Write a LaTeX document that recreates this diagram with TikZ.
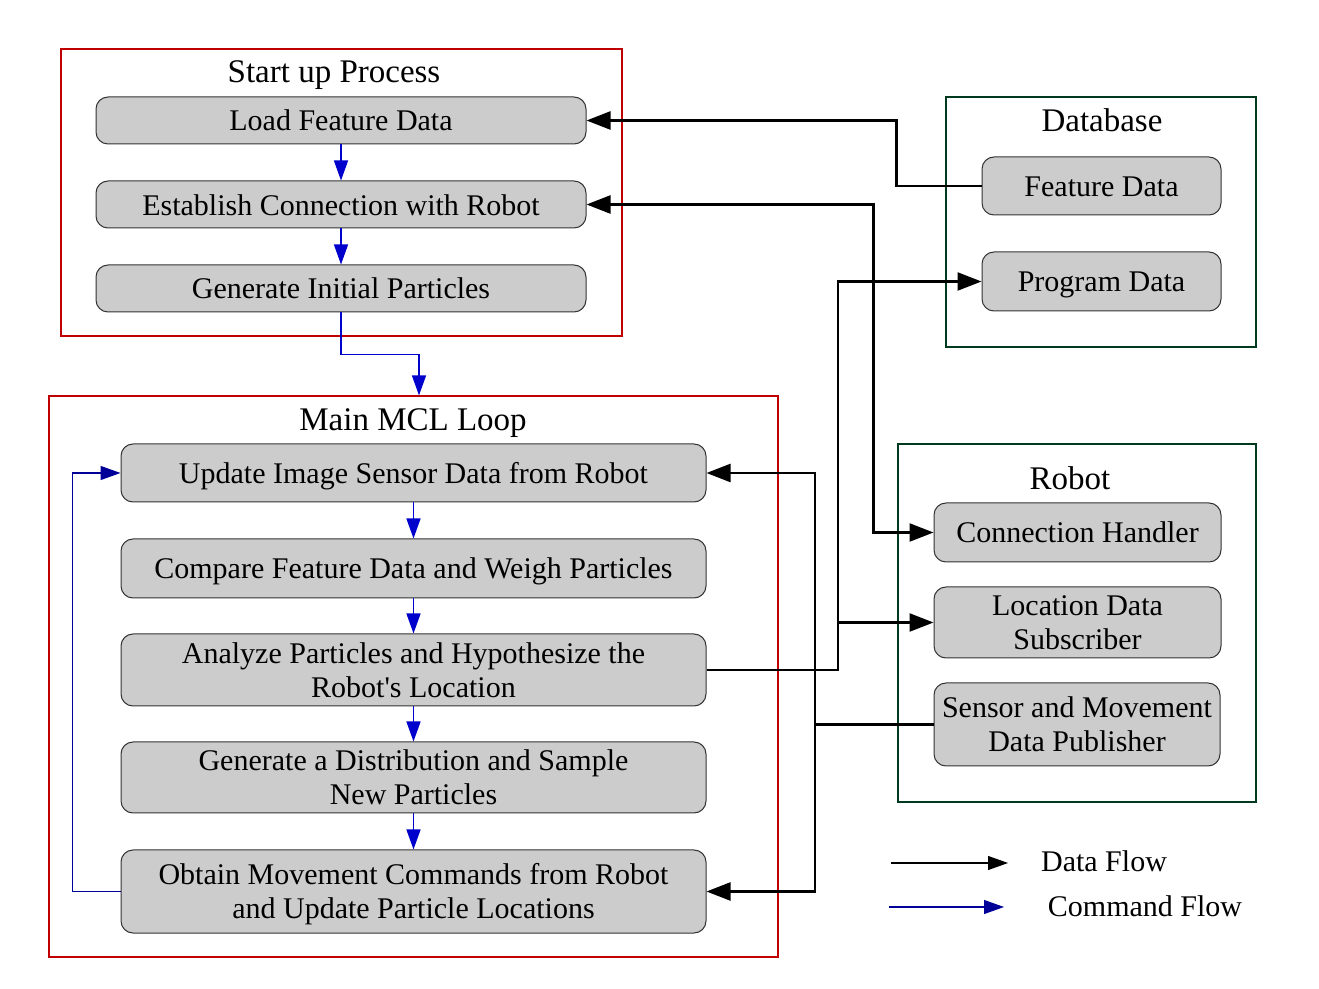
\documentclass[tikz,border=0pt]{standalone}
\usepackage{fontspec}
\setmainfont{Liberation Serif}
\usetikzlibrary{arrows.meta}
\definecolor{boxgray}{HTML}{CCCCCC}
\definecolor{redframe}{HTML}{C00000}
\definecolor{greenframe}{HTML}{003A1E}
\definecolor{cmdblue}{HTML}{0000CC}
\definecolor{navy}{HTML}{000099}
\newcommand\lowertext[1]{\raisebox{-1.5pt}[\height][\depth]{#1}}
\tikzset{
  stepbox/.style={draw=black!80, line width=0.5pt, fill=boxgray, rounded corners=6pt, inner sep=0pt, align=center, font=\fontsize{15}{16.8}\selectfont},
  frame/.style={draw, line width=0.6pt, inner sep=0pt},
  ttl/.style={font=\fontsize{16.5}{18}\selectfont, inner sep=0pt},
  lbl/.style={font=\fontsize{15}{17}\selectfont, inner sep=0pt},
  data/.style={line width=1.2pt, -{Triangle[length=12pt,width=9pt]}},
  both/.style={line width=1.2pt, {Triangle[length=12pt,width=9pt]}-{Triangle[length=12pt,width=9pt]}},
  cmd/.style={line width=0.7pt, draw=cmdblue, -{Triangle[length=10pt,width=7pt]}, cmdblue},
  cmdn/.style={line width=0.7pt, draw=navy, -{Triangle[length=10pt,width=7pt]}, navy},
}
\begin{document}
\begin{tikzpicture}[x=0.5pt,y=-0.5pt]
\useasboundingbox (0,0) rectangle (1319,989);
% frames
\node[frame, draw=redframe, minimum width=280.5pt, minimum height=143.5pt] (start) at (341.5,192.5) {};
\node[frame, draw=redframe, minimum width=364.5pt, minimum height=280.5pt] (main) at (413.5,676.5) {};
\node[frame, draw=greenframe, minimum width=155pt, minimum height=125pt] (db) at (1101,222) {};
\node[frame, draw=greenframe, minimum width=179pt, minimum height=179pt] (rob) at (1077,623) {};
% titles
\node[ttl] (tstart) at (334,75) {Start up Process};
\node[ttl] (tmain) at (413,423) {Main MCL Loop};
\node[ttl] (tdb) at (1102,120) {Database};
\node[ttl] (trob) at (1070,478) {Robot};
% start up boxes
\node[stepbox, minimum width=245pt, minimum height=23.5pt] (load) at (341,120.5) {Load Feature Data};
\node[stepbox, minimum width=245pt, minimum height=23.5pt] (est) at (341,204.5) {\raisebox{-0.5pt}[\height][\depth]{Establish Connection with Robot}};
\node[stepbox, minimum width=245pt, minimum height=23.5pt] (gen) at (341,288.5) {Generate Initial Particles};
% main loop boxes
\node[stepbox, minimum width=292.5pt, minimum height=29pt] (upd) at (413.5,473) {\lowertext{Update Image Sensor Data from Robot}};
\node[stepbox, minimum width=292.5pt, minimum height=29.5pt] (cmp) at (413.5,568.5) {\lowertext{Compare Feature Data and Weigh Particles}};
\node[stepbox, minimum width=292.5pt, minimum height=36pt] (ana) at (413.5,670) {Analyze Particles and Hypothesize the\\Robot\textquotesingle s Location};
\node[stepbox, minimum width=292.5pt, minimum height=35.5pt] (dist) at (413.5,777.5) {Generate a Distribution and Sample\\New Particles};
\node[stepbox, minimum width=292.5pt, minimum height=41.5pt] (obt) at (413.5,891.5) {\lowertext{\begin{tabular}{@{}c@{}}Obtain Movement Commands from Robot\\and Update Particle Locations\end{tabular}}};
% database boxes
\node[stepbox, minimum width=119.5pt, minimum height=29pt] (feat) at (1101.5,186) {\raisebox{-0.5pt}[\height][\depth]{Feature Data}};
\node[stepbox, minimum width=119.5pt, minimum height=29.5pt] (prog) at (1101.5,281.5) {\lowertext{Program Data}};
% robot boxes
\node[stepbox, minimum width=143.5pt, minimum height=29.5pt] (conn) at (1077.5,532.5) {Connection Handler};
\node[stepbox, minimum width=143.5pt, minimum height=35.5pt] (loc) at (1077.5,622.5) {Location Data\\Subscriber};
\node[stepbox, minimum width=143pt, minimum height=41.5pt] (sens) at (1077,724.5) {Sensor and Movement\\Data Publisher};
% command flow
\draw[cmd] (load.south) -- (est.north);
\draw[cmd] (est.south) -- (gen.north);
\draw[cmd] (gen.south) -- ++(0,42) -| ([xshift=2.75pt]main.north);
\draw[cmd] (upd.south) -- (cmp.north);
\draw[cmd] (cmp.south) -- (ana.north);
\draw[cmd] (ana.south) -- (dist.north);
\draw[cmd] (dist.south) -- (obt.north);
\draw[cmdn] (obt.west) -- ++(-48,0) |- (upd.west);
% data flow
\draw[data] (feat.west) -- ++(-85,0) |- (load.east);
\draw[both] (est.east) -- ++(287,0) |- (conn.west);
\coordinate (j1) at (838,670);
\draw[data] (ana.east) -- (j1) |- (prog.west);
\draw[data] (j1) |- (loc.west);
\coordinate (j2) at (815,724.5);
\draw[data] (sens.west) -- (j2) |- (upd.east);
\draw[data] (j2) |- (obt.east);
% legend
\coordinate (la1) at (891,863);
\coordinate (la2) at (1008,863);
\coordinate (lb1) at (889,907);
\coordinate (lb2) at (1004,907);
\draw[line width=0.6pt, -{Triangle[length=10pt,width=7pt]}] (la1) -- (la2);
\draw[line width=0.6pt, draw=navy, -{Triangle[length=10pt,width=7pt]}, navy] (lb1) -- (lb2);
\node[lbl] (ldata) at (1104,861) {Data Flow};
\node[lbl] (lcmd) at (1145,906) {Command Flow};
\end{tikzpicture}
\end{document}
